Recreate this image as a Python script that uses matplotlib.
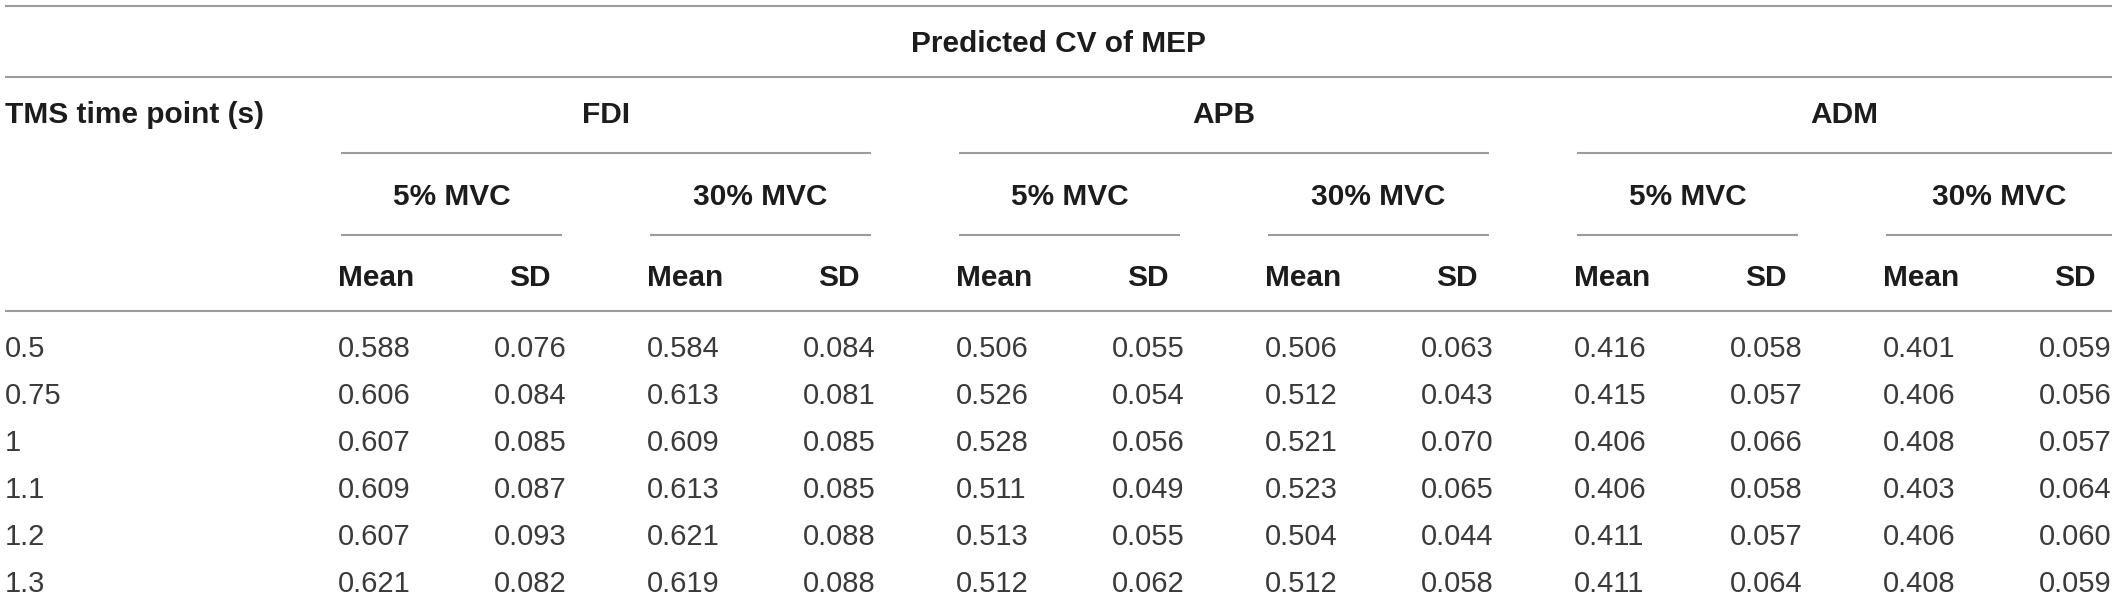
import matplotlib.pyplot as plt

plt.rcParams["font.family"] = ["Liberation Sans", "DejaVu Sans"]

# table content
time_points = ["0.5", "0.75", "1", "1.1", "1.2", "1.3"]
muscles = ["FDI", "APB", "ADM"]
levels = ["5% MVC", "30% MVC"]

fdi_5_mean = [0.588, 0.606, 0.607, 0.609, 0.607, 0.621]
fdi_5_sd = [0.076, 0.084, 0.085, 0.087, 0.093, 0.082]
fdi_30_mean = [0.584, 0.613, 0.609, 0.613, 0.621, 0.619]
fdi_30_sd = [0.084, 0.081, 0.085, 0.085, 0.088, 0.088]
apb_5_mean = [0.506, 0.526, 0.528, 0.511, 0.513, 0.512]
apb_5_sd = [0.055, 0.054, 0.056, 0.049, 0.055, 0.062]
apb_30_mean = [0.506, 0.512, 0.521, 0.523, 0.504, 0.512]
apb_30_sd = [0.063, 0.043, 0.070, 0.065, 0.044, 0.058]
adm_5_mean = [0.416, 0.415, 0.406, 0.406, 0.411, 0.411]
adm_5_sd = [0.058, 0.057, 0.066, 0.058, 0.057, 0.064]
adm_30_mean = [0.401, 0.406, 0.408, 0.403, 0.406, 0.408]
adm_30_sd = [0.059, 0.056, 0.057, 0.064, 0.060, 0.059]

columns = [
    (fdi_5_mean, fdi_5_sd), (fdi_30_mean, fdi_30_sd),
    (apb_5_mean, apb_5_sd), (apb_30_mean, apb_30_sd),
    (adm_5_mean, adm_5_sd), (adm_30_mean, adm_30_sd),
]

W, H = 2117, 599
fig = plt.figure(figsize=(W / 100, H / 100), dpi=100)
ax = fig.add_axes([0, 0, 1, 1])
ax.set_xlim(0, W)
ax.set_ylim(H, 0)
ax.axis("off")

line_color = "#9b9b9b"
head_color = "#1c1c1c"
body_color = "#3a3a3a"
head_size = 21.5
body_size = 21

left = 5
right = 2112
sub_start = 341
sub_step = 309
sub_width = 221


def hline(y, x0, x1):
    ax.plot([x0, x1], [y, y], color=line_color, lw=1.5,
            solid_capstyle="butt")


def head(x, y, s, ha="center"):
    ax.text(x, y, s, ha=ha, va="baseline", fontsize=head_size,
            fontweight="bold", color=head_color)


# rules spanning the whole table
hline(5.5, left, right)
hline(77, left, right)
hline(311, left, right)

head((left + right) / 2, 52, "Predicted CV of MEP")
head(left, 123, "TMS time point (s)", ha="left")

for m, name in enumerate(muscles):
    g0 = sub_start + 2 * m * sub_step
    g1 = g0 + sub_step + sub_width
    if m == len(muscles) - 1:
        g1 = right
    hline(153, g0, g1)
    head((g0 + g1) / 2, 123, name)

for k in range(6):
    s0 = sub_start + k * sub_step
    s1 = min(s0 + sub_width, right)
    if k == 5:
        s1 = right
    hline(235, s0, s1)
    head((s0 + s1) / 2, 205, levels[k % 2])
    mean_x = s0 - 3
    sd_x = s0 + 189
    head(mean_x, 286, "Mean", ha="left")
    head(sd_x, 286, "SD")

    mean_vals, sd_vals = columns[k]
    for i in range(len(time_points)):
        y = 357 + 47 * i
        ax.text(mean_x, y, f"{mean_vals[i]:.3f}", ha="left", va="baseline",
                fontsize=body_size, color=body_color)
        ax.text(sd_x, y, f"{sd_vals[i]:.3f}", ha="center", va="baseline",
                fontsize=body_size, color=body_color)

for i, t in enumerate(time_points):
    ax.text(left, 357 + 47 * i, t, ha="left", va="baseline",
            fontsize=body_size, color=body_color)

fig.savefig("out.png", dpi=100, facecolor="white")
